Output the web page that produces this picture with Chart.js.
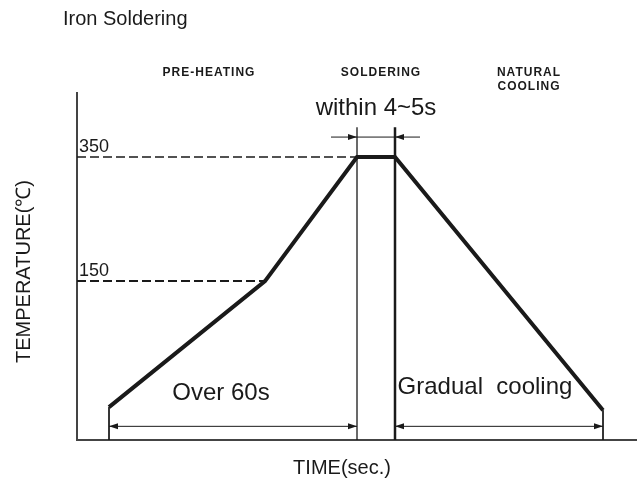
<!DOCTYPE html>
<html>
<head>
<meta charset="utf-8">
<script src="https://cdn.jsdelivr.net/npm/chart.js@4"></script>
<style>
  html, body { margin: 0; padding: 0; background: #fff; }
</style>
</head>
<body>
<canvas id="chart" width="637" height="482"></canvas>
<script>
// ── Data (time in nominal seconds, temperature in °C, schematic) ──
const profileTime  = [8, 47, 70, 79.5, 131.5];
const profileTemp  = [-53, 150, 350, 350, -58];
const tempTicks    = [150, 350];
const tickLabels   = ['150', '350'];
const guideEnd     = [47, 70];            // where each dashed guide meets the profile
const phaseNames   = [['PRE-HEATING'], ['SOLDERING'], ['NATURAL', 'COOLING']];
const phaseCenter  = [33, 76, 113];
const spanStart    = [8, 79.5];
const spanEnd      = [70, 131.5];
const spanLabels   = ['Over 60s', 'Gradual  cooling'];
const spanLabelX   = [36, 102];
const spanLabelY   = [-31, -21];
const spanLevel    = -84;
const holdLimits   = [70, 79.5];
const holdLine     = [63.5, 85.75];
const holdLevel    = 382;
const extTop       = 398;
const X_MIN = 0, X_MAX = 140, Y_MIN = -106, Y_MAX = 453;

const INK  = '#1a1a1a';
const FONT = "'Liberation Sans', Arial, sans-serif";

const pts = (xs, ys) => xs.map((x, i) => ({ x, y: ys[i] }));

// ── Datasets ─────────────────────────────────────────────────
const datasets = [
  { data: pts(profileTime, profileTemp), borderColor: INK, borderWidth: 4 },
  ...tempTicks.map((t, i) => ({
    data: pts([X_MIN, guideEnd[i]], [t, t]),
    borderColor: INK, borderWidth: i === 0 ? 2 : 1.5, borderDash: [9, 4]
  })),
  // extension lines
  { data: pts([spanStart[0], spanStart[0]], [profileTemp[0], Y_MIN]), borderColor: INK, borderWidth: 1 },
  { data: pts([spanEnd[1], spanEnd[1]], [profileTemp[4], Y_MIN]), borderColor: INK, borderWidth: 1 },
  { data: pts([holdLimits[0], holdLimits[0]], [extTop, Y_MIN]), borderColor: INK, borderWidth: 1.3 },
  { data: pts([holdLimits[1], holdLimits[1]], [extTop, Y_MIN]), borderColor: INK, borderWidth: 2.5 }
].map(d => ({ ...d, showLine: true, pointRadius: 0, fill: false, tension: 0, clip: false }));

// ── Annotations plugin ───────────────────────────────────────
const arrowHead = (ctx, x, y, dir) => {
  ctx.beginPath();
  ctx.moveTo(x, y);
  ctx.lineTo(x - dir * 9, y - 3);
  ctx.lineTo(x - dir * 9, y + 3);
  ctx.closePath();
  ctx.fill();
};

const annotations = {
  id: 'annotations',
  afterDatasetsDraw(chart) {
    const { ctx, chartArea, scales: { x, y } } = chart;
    ctx.save();
    ctx.fillStyle = INK;
    ctx.strokeStyle = INK;
    ctx.lineWidth = 1;

    // dimension arrows below the profile
    const ly = y.getPixelForValue(spanLevel);
    spanStart.forEach((s, i) => {
      const a = x.getPixelForValue(s), b = x.getPixelForValue(spanEnd[i]);
      ctx.beginPath(); ctx.moveTo(a, ly); ctx.lineTo(b, ly); ctx.stroke();
      arrowHead(ctx, a, ly, -1);
      arrowHead(ctx, b, ly, 1);
    });

    // soldering hold arrow
    const hy = y.getPixelForValue(holdLevel);
    ctx.beginPath();
    ctx.moveTo(x.getPixelForValue(holdLine[0]), hy);
    ctx.lineTo(x.getPixelForValue(holdLine[1]), hy);
    ctx.stroke();
    arrowHead(ctx, x.getPixelForValue(holdLimits[0]), hy, 1);
    arrowHead(ctx, x.getPixelForValue(holdLimits[1]), hy, -1);

    // temperature values
    ctx.font = `18px ${FONT}`;
    ctx.textAlign = 'left';
    ctx.textBaseline = 'alphabetic';
    tempTicks.forEach((t, i) => {
      ctx.fillText(tickLabels[i], chartArea.left + 2, y.getPixelForValue(t) - 5);
    });

    // phase names
    ctx.font = `bold 12px ${FONT}`;
    ctx.letterSpacing = '1px';
    ctx.textAlign = 'center';
    ctx.textBaseline = 'middle';
    phaseNames.forEach((lines, i) => {
      lines.forEach((txt, j) => {
        ctx.fillText(txt, x.getPixelForValue(phaseCenter[i]), chartArea.top - 20 + j * 14 - (lines.length - 1) * 0);
      });
    });
    ctx.letterSpacing = '0px';

    // span texts
    ctx.font = `24px ${FONT}`;
    spanLabels.forEach((txt, i) => {
      ctx.fillText(txt, x.getPixelForValue(spanLabelX[i]), y.getPixelForValue(spanLabelY[i]));
    });
    ctx.fillText('within 4~5s', x.getPixelForValue((holdLimits[0] + holdLimits[1]) / 2), hy - 29);

    // axis titles
    ctx.font = `20px ${FONT}`;
    ctx.fillText('TIME(sec.)', x.getPixelForValue(66.25), chartArea.bottom + 28);
    ctx.save();
    ctx.translate(chartArea.left - 53, (chartArea.top + chartArea.bottom) / 2 + 5);
    ctx.rotate(-Math.PI / 2);
    ctx.fillText('TEMPERATURE(℃)', 0, 0);
    ctx.restore();

    // title
    ctx.font = `20px ${FONT}`;
    ctx.textAlign = 'left';
    ctx.fillText('Iron Soldering', 63, 19);

    ctx.restore();
  }
};

// ── Chart ────────────────────────────────────────────────────
const hiddenAxis = (min, max) => ({
  type: 'linear',
  min, max,
  grid:   { display: false, drawTicks: false },
  ticks:  { display: false },
  border: { display: true, color: '#444', width: 2 }
});

new Chart(document.getElementById('chart'), {
  type: 'scatter',
  data: { datasets },
  options: {
    animation:  false,
    responsive: false,
    events:     [],
    layout: { padding: { left: 77, top: 93, right: 0, bottom: 42 } },
    plugins: {
      legend:  { display: false },
      tooltip: { enabled: false }
    },
    scales: {
      x: hiddenAxis(X_MIN, X_MAX),
      y: hiddenAxis(Y_MIN, Y_MAX)
    }
  },
  plugins: [annotations]
});
</script>
</body>
</html>
